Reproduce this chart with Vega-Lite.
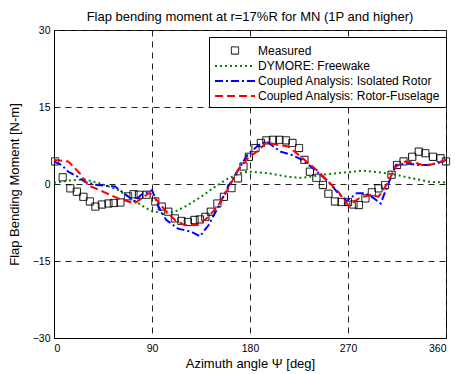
{
  "$schema": "https://vega.github.io/schema/vega-lite/v6.json",
  "autosize": {"type": "none"},
  "width": 392,
  "height": 308,
  "padding": {"left": 54, "top": 30, "right": 9, "bottom": 36},
  "background": "white",
  "title": {"text": "Flap bending moment at r=17%R for MN (1P and higher)", "fontSize": 13, "fontWeight": "normal", "font": "Liberation Sans", "color": "black", "anchor": "middle", "offset": 1},
  "datasets": {
    "measured": [
      {"psi": 1, "value": 4.4, "series": "Measured"},
      {"psi": 8, "value": 1.3, "series": "Measured"},
      {"psi": 15, "value": -0.85, "series": "Measured"},
      {"psi": 21, "value": -1.5, "series": "Measured"},
      {"psi": 27, "value": -2.5, "series": "Measured"},
      {"psi": 33, "value": -3.4, "series": "Measured"},
      {"psi": 38, "value": -4.4, "series": "Measured"},
      {"psi": 44, "value": -4.0, "series": "Measured"},
      {"psi": 50, "value": -3.8, "series": "Measured"},
      {"psi": 55, "value": -3.7, "series": "Measured"},
      {"psi": 61, "value": -3.6, "series": "Measured"},
      {"psi": 68, "value": -2.4, "series": "Measured"},
      {"psi": 73, "value": -2.0, "series": "Measured"},
      {"psi": 78, "value": -2.1, "series": "Measured"},
      {"psi": 85, "value": -2.1, "series": "Measured"},
      {"psi": 93, "value": -3.4, "series": "Measured"},
      {"psi": 99, "value": -4.4, "series": "Measured"},
      {"psi": 105, "value": -5.4, "series": "Measured"},
      {"psi": 111, "value": -6.7, "series": "Measured"},
      {"psi": 117, "value": -7.2, "series": "Measured"},
      {"psi": 123, "value": -7.4, "series": "Measured"},
      {"psi": 129, "value": -7.0, "series": "Measured"},
      {"psi": 134, "value": -6.9, "series": "Measured"},
      {"psi": 139, "value": -6.4, "series": "Measured"},
      {"psi": 144, "value": -5.4, "series": "Measured"},
      {"psi": 150, "value": -3.8, "series": "Measured"},
      {"psi": 156, "value": -2.5, "series": "Measured"},
      {"psi": 163, "value": -0.8, "series": "Measured"},
      {"psi": 169, "value": 1.1, "series": "Measured"},
      {"psi": 174, "value": 3.4, "series": "Measured"},
      {"psi": 179, "value": 5.3, "series": "Measured"},
      {"psi": 185, "value": 7.0, "series": "Measured"},
      {"psi": 190, "value": 8.0, "series": "Measured"},
      {"psi": 195, "value": 8.5, "series": "Measured"},
      {"psi": 201, "value": 8.6, "series": "Measured"},
      {"psi": 207, "value": 8.6, "series": "Measured"},
      {"psi": 213, "value": 8.5, "series": "Measured"},
      {"psi": 219, "value": 8.0, "series": "Measured"},
      {"psi": 225, "value": 7.0, "series": "Measured"},
      {"psi": 230, "value": 4.7, "series": "Measured"},
      {"psi": 235, "value": 2.4, "series": "Measured"},
      {"psi": 241, "value": 1.2, "series": "Measured"},
      {"psi": 247, "value": -0.2, "series": "Measured"},
      {"psi": 252, "value": -1.9, "series": "Measured"},
      {"psi": 258, "value": -3.4, "series": "Measured"},
      {"psi": 264, "value": -3.5, "series": "Measured"},
      {"psi": 270, "value": -3.5, "series": "Measured"},
      {"psi": 275, "value": -4.0, "series": "Measured"},
      {"psi": 280, "value": -4.1, "series": "Measured"},
      {"psi": 286, "value": -2.8, "series": "Measured"},
      {"psi": 292, "value": -1.6, "series": "Measured"},
      {"psi": 298, "value": -0.85, "series": "Measured"},
      {"psi": 304, "value": -0.2, "series": "Measured"},
      {"psi": 310, "value": 1.8, "series": "Measured"},
      {"psi": 315, "value": 3.7, "series": "Measured"},
      {"psi": 321, "value": 4.4, "series": "Measured"},
      {"psi": 329, "value": 5.3, "series": "Measured"},
      {"psi": 335, "value": 6.3, "series": "Measured"},
      {"psi": 341, "value": 6.0, "series": "Measured"},
      {"psi": 348, "value": 5.3, "series": "Measured"},
      {"psi": 355, "value": 5.0, "series": "Measured"},
      {"psi": 360, "value": 4.4, "series": "Measured"}
    ],
    "curves": [
      {"psi": 0, "value": 0.25, "series": "DYMORE: Freewake"},
      {"psi": 13, "value": 0.65, "series": "DYMORE: Freewake"},
      {"psi": 28, "value": 0.9, "series": "DYMORE: Freewake"},
      {"psi": 43, "value": 0.1, "series": "DYMORE: Freewake"},
      {"psi": 59, "value": -1.2, "series": "DYMORE: Freewake"},
      {"psi": 71, "value": -2.8, "series": "DYMORE: Freewake"},
      {"psi": 80, "value": -4.1, "series": "DYMORE: Freewake"},
      {"psi": 89, "value": -5.2, "series": "DYMORE: Freewake"},
      {"psi": 99, "value": -5.7, "series": "DYMORE: Freewake"},
      {"psi": 111, "value": -5.4, "series": "DYMORE: Freewake"},
      {"psi": 123, "value": -4.1, "series": "DYMORE: Freewake"},
      {"psi": 135, "value": -2.5, "series": "DYMORE: Freewake"},
      {"psi": 148, "value": -0.5, "series": "DYMORE: Freewake"},
      {"psi": 160, "value": 1.1, "series": "DYMORE: Freewake"},
      {"psi": 172, "value": 2.2, "series": "DYMORE: Freewake"},
      {"psi": 180, "value": 2.4, "series": "DYMORE: Freewake"},
      {"psi": 197, "value": 2.1, "series": "DYMORE: Freewake"},
      {"psi": 215, "value": 1.4, "series": "DYMORE: Freewake"},
      {"psi": 228, "value": 1.2, "series": "DYMORE: Freewake"},
      {"psi": 246, "value": 1.8, "series": "DYMORE: Freewake"},
      {"psi": 264, "value": 2.2, "series": "DYMORE: Freewake"},
      {"psi": 275, "value": 2.4, "series": "DYMORE: Freewake"},
      {"psi": 283, "value": 2.6, "series": "DYMORE: Freewake"},
      {"psi": 298, "value": 2.3, "series": "DYMORE: Freewake"},
      {"psi": 314, "value": 1.8, "series": "DYMORE: Freewake"},
      {"psi": 329, "value": 1.1, "series": "DYMORE: Freewake"},
      {"psi": 344, "value": 0.45, "series": "DYMORE: Freewake"},
      {"psi": 360, "value": 0.3, "series": "DYMORE: Freewake"},
      {"psi": 0, "value": 4.4, "series": "Coupled Analysis: Isolated Rotor"},
      {"psi": 7, "value": 3.7, "series": "Coupled Analysis: Isolated Rotor"},
      {"psi": 13, "value": 2.4, "series": "Coupled Analysis: Isolated Rotor"},
      {"psi": 22, "value": 1.4, "series": "Coupled Analysis: Isolated Rotor"},
      {"psi": 28, "value": 0.45, "series": "Coupled Analysis: Isolated Rotor"},
      {"psi": 40, "value": -0.2, "series": "Coupled Analysis: Isolated Rotor"},
      {"psi": 56, "value": -0.5, "series": "Coupled Analysis: Isolated Rotor"},
      {"psi": 66, "value": -2.1, "series": "Coupled Analysis: Isolated Rotor"},
      {"psi": 74, "value": -3.4, "series": "Coupled Analysis: Isolated Rotor"},
      {"psi": 80, "value": -2.1, "series": "Coupled Analysis: Isolated Rotor"},
      {"psi": 88, "value": -1.4, "series": "Coupled Analysis: Isolated Rotor"},
      {"psi": 90, "value": -1.2, "series": "Coupled Analysis: Isolated Rotor"},
      {"psi": 96, "value": -4.4, "series": "Coupled Analysis: Isolated Rotor"},
      {"psi": 103, "value": -7.0, "series": "Coupled Analysis: Isolated Rotor"},
      {"psi": 114, "value": -8.7, "series": "Coupled Analysis: Isolated Rotor"},
      {"psi": 126, "value": -9.3, "series": "Coupled Analysis: Isolated Rotor"},
      {"psi": 134, "value": -10.2, "series": "Coupled Analysis: Isolated Rotor"},
      {"psi": 142, "value": -8.0, "series": "Coupled Analysis: Isolated Rotor"},
      {"psi": 151, "value": -4.4, "series": "Coupled Analysis: Isolated Rotor"},
      {"psi": 160, "value": -0.5, "series": "Coupled Analysis: Isolated Rotor"},
      {"psi": 169, "value": 2.7, "series": "Coupled Analysis: Isolated Rotor"},
      {"psi": 178, "value": 5.8, "series": "Coupled Analysis: Isolated Rotor"},
      {"psi": 188, "value": 7.6, "series": "Coupled Analysis: Isolated Rotor"},
      {"psi": 195, "value": 8.3, "series": "Coupled Analysis: Isolated Rotor"},
      {"psi": 208, "value": 6.3, "series": "Coupled Analysis: Isolated Rotor"},
      {"psi": 218, "value": 5.7, "series": "Coupled Analysis: Isolated Rotor"},
      {"psi": 228, "value": 4.7, "series": "Coupled Analysis: Isolated Rotor"},
      {"psi": 240, "value": 2.7, "series": "Coupled Analysis: Isolated Rotor"},
      {"psi": 252, "value": 0.45, "series": "Coupled Analysis: Isolated Rotor"},
      {"psi": 261, "value": -1.8, "series": "Coupled Analysis: Isolated Rotor"},
      {"psi": 269, "value": -3.3, "series": "Coupled Analysis: Isolated Rotor"},
      {"psi": 278, "value": -1.8, "series": "Coupled Analysis: Isolated Rotor"},
      {"psi": 286, "value": -1.8, "series": "Coupled Analysis: Isolated Rotor"},
      {"psi": 294, "value": -2.8, "series": "Coupled Analysis: Isolated Rotor"},
      {"psi": 300, "value": -3.8, "series": "Coupled Analysis: Isolated Rotor"},
      {"psi": 306, "value": -0.5, "series": "Coupled Analysis: Isolated Rotor"},
      {"psi": 314, "value": 3.7, "series": "Coupled Analysis: Isolated Rotor"},
      {"psi": 324, "value": 4.0, "series": "Coupled Analysis: Isolated Rotor"},
      {"psi": 334, "value": 3.7, "series": "Coupled Analysis: Isolated Rotor"},
      {"psi": 343, "value": 3.7, "series": "Coupled Analysis: Isolated Rotor"},
      {"psi": 352, "value": 4.0, "series": "Coupled Analysis: Isolated Rotor"},
      {"psi": 360, "value": 4.7, "series": "Coupled Analysis: Isolated Rotor"},
      {"psi": 0, "value": 4.7, "series": "Coupled Analysis: Rotor-Fuselage"},
      {"psi": 13, "value": 4.4, "series": "Coupled Analysis: Rotor-Fuselage"},
      {"psi": 24, "value": 2.0, "series": "Coupled Analysis: Rotor-Fuselage"},
      {"psi": 31, "value": -0.2, "series": "Coupled Analysis: Rotor-Fuselage"},
      {"psi": 45, "value": -1.5, "series": "Coupled Analysis: Rotor-Fuselage"},
      {"psi": 59, "value": -2.8, "series": "Coupled Analysis: Rotor-Fuselage"},
      {"psi": 74, "value": -3.8, "series": "Coupled Analysis: Rotor-Fuselage"},
      {"psi": 87, "value": -1.8, "series": "Coupled Analysis: Rotor-Fuselage"},
      {"psi": 90, "value": -2.0, "series": "Coupled Analysis: Rotor-Fuselage"},
      {"psi": 102, "value": -5.1, "series": "Coupled Analysis: Rotor-Fuselage"},
      {"psi": 111, "value": -7.0, "series": "Coupled Analysis: Rotor-Fuselage"},
      {"psi": 120, "value": -8.0, "series": "Coupled Analysis: Rotor-Fuselage"},
      {"psi": 132, "value": -8.0, "series": "Coupled Analysis: Rotor-Fuselage"},
      {"psi": 142, "value": -6.4, "series": "Coupled Analysis: Rotor-Fuselage"},
      {"psi": 151, "value": -4.1, "series": "Coupled Analysis: Rotor-Fuselage"},
      {"psi": 160, "value": -0.9, "series": "Coupled Analysis: Rotor-Fuselage"},
      {"psi": 169, "value": 2.7, "series": "Coupled Analysis: Rotor-Fuselage"},
      {"psi": 178, "value": 5.0, "series": "Coupled Analysis: Rotor-Fuselage"},
      {"psi": 188, "value": 6.6, "series": "Coupled Analysis: Rotor-Fuselage"},
      {"psi": 195, "value": 8.1, "series": "Coupled Analysis: Rotor-Fuselage"},
      {"psi": 206, "value": 7.6, "series": "Coupled Analysis: Rotor-Fuselage"},
      {"psi": 215, "value": 7.3, "series": "Coupled Analysis: Rotor-Fuselage"},
      {"psi": 224.5, "value": 5.7, "series": "Coupled Analysis: Rotor-Fuselage"},
      {"psi": 234, "value": 4.0, "series": "Coupled Analysis: Rotor-Fuselage"},
      {"psi": 243, "value": 2.4, "series": "Coupled Analysis: Rotor-Fuselage"},
      {"psi": 252, "value": 0.45, "series": "Coupled Analysis: Rotor-Fuselage"},
      {"psi": 261, "value": -1.5, "series": "Coupled Analysis: Rotor-Fuselage"},
      {"psi": 270.5, "value": -4.2, "series": "Coupled Analysis: Rotor-Fuselage"},
      {"psi": 280, "value": -2.8, "series": "Coupled Analysis: Rotor-Fuselage"},
      {"psi": 291, "value": -2.1, "series": "Coupled Analysis: Rotor-Fuselage"},
      {"psi": 298, "value": -2.5, "series": "Coupled Analysis: Rotor-Fuselage"},
      {"psi": 306, "value": 0.1, "series": "Coupled Analysis: Rotor-Fuselage"},
      {"psi": 314, "value": 3.4, "series": "Coupled Analysis: Rotor-Fuselage"},
      {"psi": 323, "value": 4.4, "series": "Coupled Analysis: Rotor-Fuselage"},
      {"psi": 334, "value": 4.0, "series": "Coupled Analysis: Rotor-Fuselage"},
      {"psi": 341, "value": 3.5, "series": "Coupled Analysis: Rotor-Fuselage"},
      {"psi": 350, "value": 4.0, "series": "Coupled Analysis: Rotor-Fuselage"},
      {"psi": 360, "value": 4.7, "series": "Coupled Analysis: Rotor-Fuselage"}
    ]
  },
  "encoding": {
    "x": {"field": "psi", "type": "quantitative", "scale": {"domain": [0, 360], "nice": false, "zero": false},
      "axis": {"values": [0, 90, 180, 270, 360], "title": "Azimuth angle Ψ [deg]", "grid": true, "titlePadding": 4, "labelPadding": 5}},
    "y": {"field": "value", "type": "quantitative", "scale": {"domain": [-30, 30], "nice": false},
      "axis": {"values": [-30, -15, 0, 15, 30], "title": "Flap Bending Moment [N-m]", "grid": true, "titlePadding": 11, "labelPadding": 4}},
    "color": {"field": "series", "type": "nominal",
      "scale": {"domain": ["Measured", "DYMORE: Freewake", "Coupled Analysis: Isolated Rotor", "Coupled Analysis: Rotor-Fuselage"], "range": ["#000000", "#008000", "#0000ff", "#ff0000"]},
      "legend": {"title": null, "orient": "none", "legendX": 155, "legendY": 7}},
    "strokeDash": {"field": "series", "type": "nominal",
      "scale": {"domain": ["Measured", "DYMORE: Freewake", "Coupled Analysis: Isolated Rotor", "Coupled Analysis: Rotor-Fuselage"], "range": [[1, 0], [2, 3], [8, 3, 2, 3], [8, 4]]},
      "legend": {"title": null, "orient": "none", "legendX": 155, "legendY": 7}},
    "strokeWidth": {"field": "series", "type": "nominal",
      "scale": {"type": "ordinal", "domain": ["Measured", "DYMORE: Freewake", "Coupled Analysis: Isolated Rotor", "Coupled Analysis: Rotor-Fuselage"], "range": [1, 2, 2, 2]},
      "legend": {"title": null, "orient": "none", "legendX": 155, "legendY": 7}}
  },
  "layer": [
    {
      "data": {"name": "measured"},
      "mark": {"type": "point", "filled": false, "size": 256, "opacity": 1},
      "encoding": {
        "shape": {"field": "series", "type": "nominal",
          "scale": {"domain": ["Measured", "DYMORE: Freewake", "Coupled Analysis: Isolated Rotor", "Coupled Analysis: Rotor-Fuselage"], "range": ["M-0.45,-0.45L0.45,-0.45L0.45,0.45L-0.45,0.45Z", "M-2.5,0L2.5,0", "M-2.5,0L2.5,0", "M-2.5,0L2.5,0"]},
          "legend": {"title": null, "orient": "none", "legendX": 155, "legendY": 7}}
      }
    },
    {
      "data": {"name": "curves"},
      "mark": {"type": "line"},
      "encoding": {}
    }
  ],
  "config": {
    "font": "Liberation Sans",
    "view": {"stroke": "black", "strokeWidth": 1},
    "axis": {"labelFont": "Liberation Sans", "labelFontSize": 10.5, "labelColor": "black", "titleFont": "Liberation Sans", "titleFontSize": 13, "titleFontWeight": "normal", "titleColor": "black", "domainColor": "black", "ticks": false, "gridColor": "#222222", "gridDash": [6, 5], "gridWidth": 1, "gridOpacity": 1},
    "legend": {"labelFont": "Liberation Sans", "labelFontSize": 12, "labelColor": "black", "strokeColor": "black", "fillColor": "white", "padding": 5, "symbolSize": 256, "symbolOffset": 12, "labelOffset": 14, "rowPadding": 0, "symbolFillColor": "transparent", "labelLimit": 300}
  }
}
